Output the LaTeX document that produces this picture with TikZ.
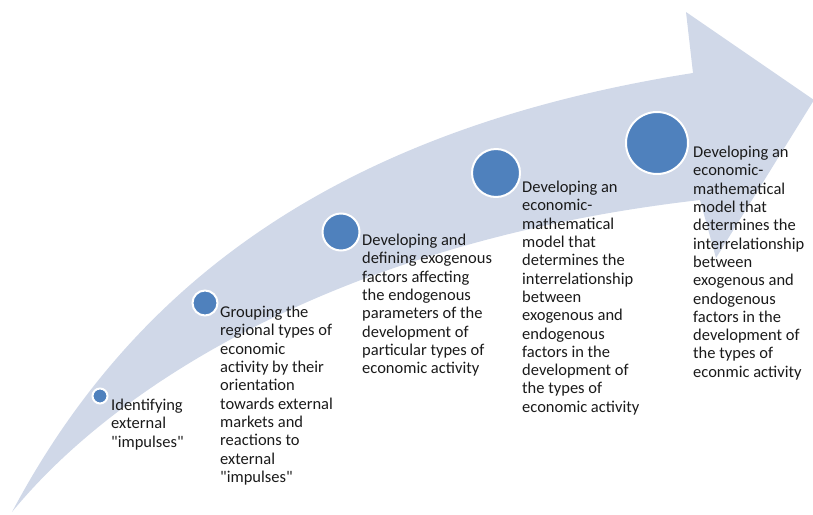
\documentclass[tikz,border=0pt]{standalone}
\usepackage{fontspec}
\setmainfont{Carlito}[Ligatures=TeXOff]
\definecolor{arrowfill}{HTML}{D0D8E8}
\definecolor{dotblue}{HTML}{4F81BD}
\definecolor{txt}{HTML}{1A1A1A}
\begin{document}
\begin{tikzpicture}[x=1pt,y=-1pt,
  dot/.style={circle,fill=dotblue,draw=white,line width=2pt,inner sep=0pt,minimum size=#1},
  label/.style={anchor=north west,inner sep=0pt,align=left,text=txt,
    font=\fontsize{16.5}{18.3}\selectfont}]
\useasboundingbox (0,0) rectangle (813,514);
% arrow
\fill[arrowfill] (12,512) .. controls (130,290) and (330,130) .. (693,73)
  -- (686,12) -- (814,100) -- (716,258) -- (700,200)
  .. controls (350,240) and (120,380) .. (12,512) -- cycle;
% dots
\node[dot=15pt] (d1) at (100,396) {};
\node[dot=25pt] (d2) at (205,303) {};
\node[dot=37pt] (d3) at (341,232) {};
\node[dot=48pt] (d4) at (496,173) {};
\node[dot=62pt] (d5) at (657,143) {};
% texts
\node[label] (t1) at (111,399) {Identifying\\external\\"impulses"};
\node[label] (t2) at (220,306) {Grouping the\\regional types of\\economic\\activity by their\\orientation\\towards external\\markets and\\reactions to\\external\\"impulses"};
\node[label] (t3) at (362,234) {Developing and\\defining exogenous\\factors affecting\\the endogenous\\parameters of the\\development of\\particular types of\\economic activity};
\node[label] (t4) at (522,181) {Developing an\\economic-\\mathematical\\model that\\determines the\\interrelationship\\between\\exogenous and\\endogenous\\factors in the\\development of\\the types of\\economic activity};
\node[label] (t5) at (693,146) {Developing an\\economic-\\mathematical\\model that\\determines the\\interrelationship\\between\\exogenous and\\endogenous\\factors in the\\development of\\the types of\\econmic activity};
\end{tikzpicture}
\end{document}
